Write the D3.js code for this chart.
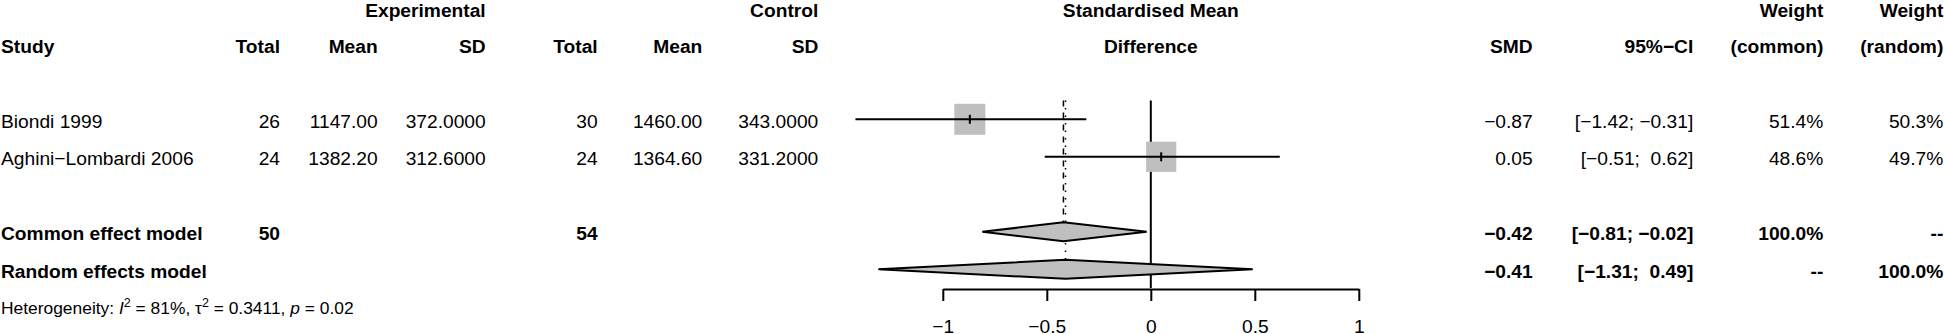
<!DOCTYPE html>
<html>
<head>
<meta charset="utf-8">
<style>
  body { margin: 0; background: #fff; }
  svg text { font-family: "Liberation Sans", Arial, sans-serif; font-size: 19.2px; fill: #000; white-space: pre; }
  .bold { font-weight: bold; }
  .ci, .est { stroke: #000; stroke-width: 2; }
  .box { fill: #bfbfbf; }
  .diamond { fill: #bfbfbf; stroke: #000; stroke-width: 2; }
  .axis path, .axis line { stroke: #000; stroke-width: 2; }
  .axis text { font-size: 19.2px; }
  .het { font-size: 17.4px; }
</style>
</head>
<body>
<svg width="1944" height="334"></svg>
<script src="https://cdn.jsdelivr.net/npm/d3@7"></script>
<script>

// study data
var studies = ["Biondi 1999", "Aghini\u2212Lombardi 2006"]
var expTotal = [26, 24]
var expMean = [1147.00, 1382.20]
var expSD = [372.0000, 312.6000]
var ctrlTotal = [30, 24]
var ctrlMean = [1460.00, 1364.60]
var ctrlSD = [343.0000, 331.2000]
var smd = [-0.87, 0.05]
var lower = [-1.42, -0.51]
var upper = [-0.31, 0.62]
var wCommon = [51.4, 48.6]
var wRandom = [50.3, 49.7]

// pooled estimates
var models = ["Common effect model", "Random effects model"]
var modelSmd = [-0.42, -0.41]
var modelLower = [-0.81, -1.31]
var modelUpper = [-0.02, 0.49]
var modelWCommon = ["100.0%", "--"]
var modelWRandom = ["--", "100.0%"]
var totalExp = 50, totalCtrl = 54

// heterogeneity
var i2 = 81, tau2 = 0.3411, pHet = 0.02

var tickValues = [-1, -0.5, 0, 0.5, 1]

var svg = d3.select("svg")

var x = d3.scaleLinear().domain([-1, 1]).range([942.8, 1358.8])
// row centres, row 0 = first header line
var row = d3.scaleLinear().domain([0, 8]).range([6.8, 306.8])
var base = 8.2

var minus = function(s) { return s.replace(/-/g, "\u2212") }
var f2 = function(v) { return minus(v.toFixed(2)) }
var ci = function(lo, hi) {
  var h = f2(hi)
  if (hi >= 0) h = " " + h
  var l = f2(lo)
  if (lo >= 0) l = " " + l
  return "[" + l + "; " + h + "]"
}

// column right edges
var col = {
  study: 1, eTotal: 280, eMean: 377.7, eSD: 485.7,
  cTotal: 597.7, cMean: 702.3, cSD: 818.3,
  smd: 1532.7, ci: 1693.3, wc: 1823.3, wr: 1943.3
}

function txt(str, cx, r, anchor, cls) {
  svg.append("text")
    .attr("x", cx)
    .attr("y", row(r) + base + (r == 0 ? 1.8 : 0))
    .attr("text-anchor", anchor)
    .attr("class", cls || null)
    .text(str)
}

// headers
txt("Experimental", col.eSD, 0, "end", "bold")
txt("Control", col.cSD, 0, "end", "bold")
txt("Standardised Mean", x(0), 0, "middle", "bold")
txt("Weight", col.wc, 0, "end", "bold")
txt("Weight", col.wr, 0, "end", "bold")

txt("Study", col.study, 1, "start", "bold")
txt("Total", col.eTotal, 1, "end", "bold")
txt("Mean", col.eMean, 1, "end", "bold")
txt("SD", col.eSD, 1, "end", "bold")
txt("Total", col.cTotal, 1, "end", "bold")
txt("Mean", col.cMean, 1, "end", "bold")
txt("SD", col.cSD, 1, "end", "bold")
txt("Difference", x(0), 1, "middle", "bold")
txt("SMD", col.smd, 1, "end", "bold")
txt("95%\u2212CI", col.ci, 1, "end", "bold")
txt("(common)", col.wc, 1, "end", "bold")
txt("(random)", col.wr, 1, "end", "bold")

// study rows
studies.forEach(function(s, i) {
  var r = 3 + i
  txt(s, col.study, r, "start")
  txt(String(expTotal[i]), col.eTotal, r, "end")
  txt(expMean[i].toFixed(2), col.eMean, r, "end")
  txt(expSD[i].toFixed(4), col.eSD, r, "end")
  txt(String(ctrlTotal[i]), col.cTotal, r, "end")
  txt(ctrlMean[i].toFixed(2), col.cMean, r, "end")
  txt(ctrlSD[i].toFixed(4), col.cSD, r, "end")
  txt(f2(smd[i]), col.smd, r, "end")
  txt(ci(lower[i], upper[i]), col.ci, r, "end")
  txt(wCommon[i].toFixed(1) + "%", col.wc, r, "end")
  txt(wRandom[i].toFixed(1) + "%", col.wr, r, "end")
})

// model rows
models.forEach(function(m, i) {
  var r = 6 + i
  txt(m, col.study, r, "start", "bold")
  if (i == 0) {
    txt(String(totalExp), col.eTotal, r, "end", "bold")
    txt(String(totalCtrl), col.cTotal, r, "end", "bold")
  }
  txt(f2(modelSmd[i]), col.smd, r, "end", "bold")
  txt(ci(modelLower[i], modelUpper[i]), col.ci, r, "end", "bold")
  txt(modelWCommon[i], col.wc, r, "end", "bold")
  txt(modelWRandom[i], col.wr, r, "end", "bold")
})

// heterogeneity line
var het = svg.append("text")
  .attr("class", "het")
  .attr("x", col.study)
  .attr("y", row(8) + 6.8)
het.append("tspan").text("Heterogeneity: ")
het.append("tspan").style("font-style", "italic").text("I")
het.append("tspan").attr("dy", -7).style("font-size", "12.5px").text("2")
het.append("tspan").attr("dy", 7).text(" = " + i2 + "%, \u03c4")
het.append("tspan").attr("dy", -7).style("font-size", "12.5px").text("2")
het.append("tspan").attr("dy", 7).text(" = " + tau2 + ", ")
het.append("tspan").style("font-style", "italic").text("p")
het.append("tspan").text(" = " + pHet)

// graph
var plotTop = row(2.5), plotBottom = row(7.5)
var g = svg.append("g")

// reference lines
g.append("line")
  .attr("x1", x(0)).attr("x2", x(0))
  .attr("y1", plotTop).attr("y2", plotBottom)
  .attr("stroke", "#000").attr("stroke-width", 2)

g.append("line")
  .attr("x1", x(modelSmd[0])).attr("x2", x(modelSmd[0]))
  .attr("y1", plotTop).attr("y2", row(6) - 9.5)
  .attr("stroke", "#000").attr("stroke-width", 1.5)
  .attr("stroke-dasharray", "6,6")

g.append("line")
  .attr("x1", x(modelSmd[1])).attr("x2", x(modelSmd[1]))
  .attr("y1", plotTop).attr("y2", row(7) - 9.5)
  .attr("stroke", "#000").attr("stroke-width", 1.5)
  .attr("stroke-dasharray", "1.5,6")

// study boxes and CIs
var maxW = d3.max(wCommon)
var boxSize = d3.scaleSqrt().domain([0, maxW]).range([0, 31])

studies.forEach(function(s, i) {
  var cy = row(3 + i)
  var sz = boxSize(wCommon[i])
  g.append("rect")
    .attr("class", "box")
    .attr("x", x(smd[i]) - sz / 2)
    .attr("y", cy - sz / 2)
    .attr("width", sz)
    .attr("height", sz)
  g.append("line")
    .attr("class", "ci")
    .attr("x1", x(lower[i])).attr("x2", x(upper[i]))
    .attr("y1", cy).attr("y2", cy)
  g.append("line")
    .attr("class", "est")
    .attr("x1", x(smd[i])).attr("x2", x(smd[i]))
    .attr("y1", cy - 4.5).attr("y2", cy + 4.5)
})

// diamonds
models.forEach(function(m, i) {
  var cy = row(6 + i), h = 9.5
  var pts = [
    [x(modelLower[i]), cy],
    [x(modelSmd[i]), cy - h],
    [x(modelUpper[i]), cy],
    [x(modelSmd[i]), cy + h]
  ]
  g.append("polygon")
    .attr("class", "diamond")
    .attr("points", pts.map(function(p) { return p.join(",") }).join(" "))
})

// axis
var axis = d3.axisBottom(x)
  .tickValues(tickValues)
  .tickSize(12)
  .tickSizeOuter(0)
  .tickPadding(18)
  .tickFormat(function(d) { return minus(String(d)) })

svg.append("g")
  .attr("class", "axis")
  .attr("transform", "translate(0," + 289 + ")")
  .call(axis)
  .call(function(a) { a.selectAll("text").attr("font-family", null).attr("font-size", null) })

</script>
</body>
</html>
